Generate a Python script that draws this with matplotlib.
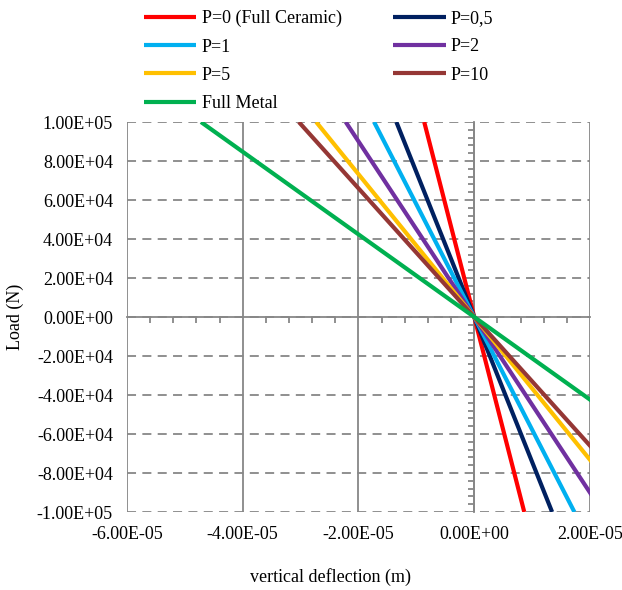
import matplotlib
matplotlib.use("Agg")
import matplotlib.pyplot as plt
from matplotlib.ticker import MultipleLocator, FuncFormatter

plt.rcParams["font.family"] = ["Liberation Serif", "DejaVu Serif"]
plt.rcParams["font.size"] = 13

# deflection (m) reached at load = 1e5 N (lines pass through origin)
labels = ["P=0 (Full Ceramic)", "P=0,5", "P=1", "P=2", "P=5", "P=10", "Full Metal"]
defl_at_max = [0.864e-5, 1.345e-5, 1.73e-5, 2.22e-5, 2.73e-5, 3.03e-5, 4.72e-5]
colors = ["#FF0000", "#002060", "#00B0F0", "#7030A0", "#FFC000", "#953735", "#00B050"]
load_max = 1.0e5

fig = plt.figure(figsize=(6.22, 5.9), dpi=100)
ax = fig.add_axes([0.204, 0.1322, 0.7446, 0.661])

handles = {}
for lab, d, c in zip(labels, defl_at_max, colors):
    h, = ax.plot([-d, d], [load_max, -load_max], color=c, lw=3, solid_capstyle="butt", zorder=3)
    handles[lab] = h

ax.set_xlim(-6e-5, 2e-5)
ax.set_ylim(-1e5, 1e5)

grid_c = "#878787"
# grid lines
ax.set_xticks([-6e-5, -4e-5, -2e-5, 0, 2e-5])
ax.set_yticks(range(-100000, 100001, 20000))
ax.xaxis.grid(True, color=grid_c, lw=1.3, ls="-")
ax.yaxis.grid(True, color=grid_c, lw=1.3, ls=(0, (5, 3.5)))
ax.set_axisbelow(True)

# axes through origin
for s in ["top", "right"]:
    ax.spines[s].set_visible(False)
for s in ["left", "bottom"]:
    ax.spines[s].set_position(("data", 0))
    ax.spines[s].set_color(grid_c)
    ax.spines[s].set_linewidth(1.3)
    ax.spines[s].set_zorder(1)
ax.xaxis.set_minor_locator(MultipleLocator(4e-6))
ax.yaxis.set_minor_locator(MultipleLocator(4000))
ax.tick_params(which="major", length=0, labelleft=False, labelbottom=False)
ax.tick_params(which="minor", direction="out", length=4, width=1.3, color=grid_c)

# tick labels at the outer edges
fmt = FuncFormatter(lambda v, p: f"{v:.2E}")
sy = ax.secondary_yaxis("left")
sy.set_yticks(range(-100000, 100001, 20000))
sy.yaxis.set_major_formatter(fmt)
sy.tick_params(length=0, pad=10)
sy.spines["left"].set_visible(False)
sx = ax.secondary_xaxis("bottom")
sx.set_xticks([-6e-5, -4e-5, -2e-5, 0, 2e-5])
sx.xaxis.set_major_formatter(fmt)
sx.tick_params(length=0, pad=10)
sx.spines["bottom"].set_visible(False)

fig.text(15 / 622, 1 - 317 / 590, "Load (N)", rotation=90, ha="center", va="center")
fig.text(330 / 622, 1 - 577 / 590, "vertical deflection (m)", ha="center", va="center")

order = ["P=0 (Full Ceramic)", "P=1", "P=5", "Full Metal", "P=0,5", "P=2", "P=10"]
fig.legend([handles[k] for k in order], order, ncol=2, frameon=False,
           loc="upper left", bbox_to_anchor=(144 / 622, 1 - 10 / 590),
           handlelength=2.9, handletextpad=0.3, columnspacing=2.85,
           labelspacing=0.62, borderpad=0, borderaxespad=0)

fig.savefig("out.png", dpi=100)
